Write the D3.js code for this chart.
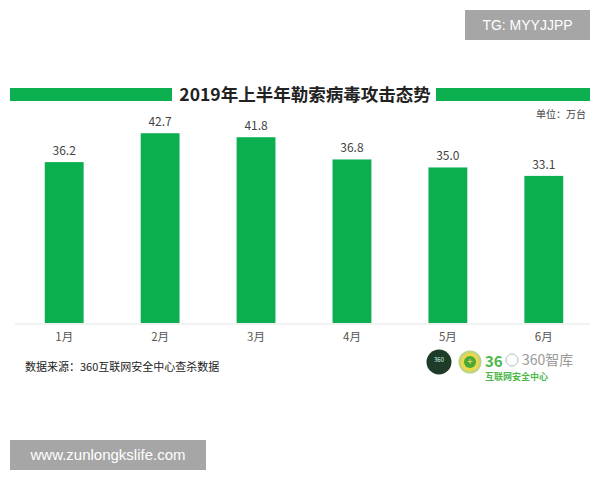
<!DOCTYPE html>
<html><head><meta charset="utf-8">
<script src="https://cdn.jsdelivr.net/npm/d3@7"></script>
<style>body{margin:0;background:#fff}svg{display:block}</style>
</head><body>
<svg id="c" width="600" height="480"></svg>
<script>
const months = ["1月","2月","3月","4月","5月","6月"];
const values = [36.2, 42.7, 41.8, 36.8, 35.0, 33.1];
const title = "2019年上半年勒索病毒攻击态势";
const unitLabel = "单位：万台";
const sourceLabel = "数据来源：360互联网安全中心查杀数据";

const svg = d3.select("#c");
const green = "#0caf4f";
const font = "'Noto Sans CJK SC','Noto Sans',sans-serif";

// title with side bars
svg.append("rect").attr("x",10).attr("y",88).attr("width",162).attr("height",13).attr("fill",green);
svg.append("rect").attr("x",436).attr("y",88).attr("width",154).attr("height",13).attr("fill",green);
svg.append("text").attr("x",305).attr("y",101).attr("text-anchor","middle")
  .attr("font-family",font).attr("font-weight","bold").attr("font-size",17.5).attr("fill","#222").text(title);
svg.append("text").attr("x",586).attr("y",118).attr("text-anchor","end")
  .attr("font-family",font).attr("font-size",10).attr("fill","#444").text(unitLabel);

const x = d3.scaleBand().domain(months).range([16,592]).paddingInner(0.595).paddingOuter(0.3);
const y = d3.scaleLinear().domain([0,45]).range([323,123]);

svg.append("line").attr("x1",15).attr("x2",590).attr("y1",324).attr("y2",324)
  .attr("stroke","#e4e4e4").attr("stroke-width",1);

svg.selectAll("rect.bar").data(values).join("rect").attr("class","bar")
  .attr("x",(d,i)=>x(months[i])).attr("width",x.bandwidth())
  .attr("y",d=>y(d)).attr("height",d=>y(0)-y(d)).attr("fill",green);

svg.selectAll("text.val").data(values).join("text").attr("class","val")
  .attr("x",(d,i)=>x(months[i])+x.bandwidth()/2).attr("y",d=>y(d)-7)
  .attr("text-anchor","middle").attr("font-family",font).attr("font-size",12).attr("fill","#444")
  .text(d=>d.toFixed(1));

const xa = svg.append("g").attr("transform","translate(0,324)")
  .call(d3.axisBottom(x).tickSize(0).tickPadding(9));
xa.select(".domain").remove();
xa.selectAll("text").attr("font-family",font).attr("font-size",11.5).attr("fill","#555");

svg.append("text").attr("x",25).attr("y",371).attr("font-family",font).attr("font-size",11)
  .attr("fill","#222").text(sourceLabel);

// logos
const lg = svg.append("g");
lg.append("circle").attr("cx",439).attr("cy",362).attr("r",12.5).attr("fill","#1d3b26");
lg.append("text").attr("x",439).attr("y",362).attr("text-anchor","middle").attr("font-family",font)
  .attr("font-size",6).attr("fill","#cfe").text("360");
lg.append("circle").attr("cx",470).attr("cy",362).attr("r",10.5).attr("fill","#e8d84a").attr("stroke","#b9d48a").attr("stroke-width",2);
lg.append("circle").attr("cx",470).attr("cy",362).attr("r",6).attr("fill","#4aa83a");
lg.append("text").attr("x",470).attr("y",365).attr("text-anchor","middle").attr("font-size",9)
  .attr("font-weight","bold").attr("fill","#e8d84a").attr("font-family",font).text("+");
lg.append("text").attr("x",485).attr("y",367).attr("font-family",font).attr("font-size",15)
  .attr("font-weight","bold").attr("fill","#4cb848").text("36");
lg.append("text").attr("x",485).attr("y",380).attr("font-family",font).attr("font-size",9)
  .attr("font-weight","bold").attr("fill","#4cb848").text("互联网安全中心");
lg.append("circle").attr("cx",512).attr("cy",360).attr("r",6).attr("fill","#fff").attr("stroke","#bbb").attr("stroke-width",1);
lg.append("text").attr("x",522).attr("y",365).attr("font-family",font).attr("font-size",14)
  .attr("fill","#999").text("360智库");

// watermarks
svg.append("rect").attr("x",465).attr("y",10).attr("width",125).attr("height",30).attr("fill","#a6a6a6");
svg.append("text").attr("x",527.5).attr("y",30).attr("text-anchor","middle").attr("font-family","'Liberation Sans',Arial,sans-serif")
  .attr("font-size",14).attr("fill","#fff").text("TG: MYYJJPP");
svg.append("rect").attr("x",10).attr("y",440).attr("width",196).attr("height",30).attr("fill","#a6a6a6");
svg.append("text").attr("x",108).attr("y",460).attr("text-anchor","middle").attr("font-family","'Liberation Sans',Arial,sans-serif")
  .attr("font-size",15).attr("fill","#fff").text("www.zunlongkslife.com");
</script>
</body></html>
